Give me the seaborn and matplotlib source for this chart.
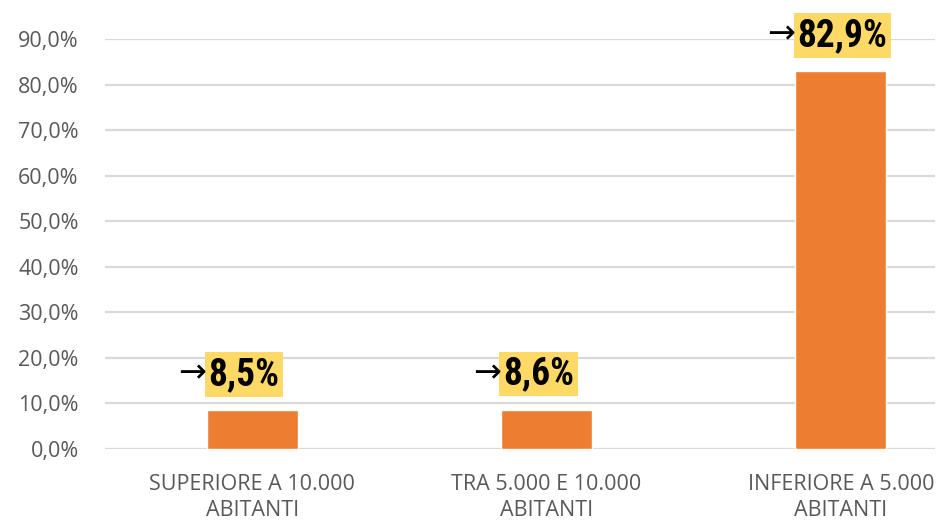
import matplotlib
matplotlib.use("Agg")
import matplotlib.pyplot as plt
import seaborn as sns
import pandas as pd

categorie = ["SUPERIORE A 10.000\nABITANTI", "TRA 5.000 E 10.000\nABITANTI", "INFERIORE A 5.000\nABITANTI"]
valori = [0.085, 0.086, 0.829]
etichette = ["8,5%", "8,6%", "82,9%"]
yticks = [0.0, 0.1, 0.2, 0.3, 0.4, 0.5, 0.6, 0.7, 0.8, 0.9]
ytick_labels = ["0,0%", "10,0%", "20,0%", "30,0%", "40,0%", "50,0%", "60,0%", "70,0%", "80,0%", "90,0%"]

df = pd.DataFrame({"cat": categorie, "val": valori})

sns.set_style("white")
plt.rcParams['font.family'] = ['Open Sans', 'DejaVu Sans']

fig = plt.figure(figsize=(9.41, 5.22), dpi=100)
ax = fig.add_axes([0.1116, 0.1398, 0.882, 0.7855])

bw = 0.31
sns.barplot(df, x="cat", y="val", color="#ED7D31", saturation=1, width=bw, ax=ax, zorder=3)

ax.set_ylim(0, 0.9)
ax.set_xlim(-0.5, 2.32)
ax.set_yticks(yticks)
ax.set_yticklabels(ytick_labels)
for y in yticks:
    ax.axhline(y, color="#d9d9d9", lw=1.6, zorder=1)
for s in ax.spines.values():
    s.set_visible(False)
ax.tick_params(axis="both", length=0, colors="#595959", labelsize=15.5)
ax.tick_params(axis="y", pad=19)
ax.tick_params(axis="x", pad=18)
for t in ax.get_xticklabels():
    t.set_linespacing(1.3)
ax.set(xlabel="", ylabel="")

lab_font = ['Roboto Condensed', 'Liberation Sans Narrow', 'Roboto', 'DejaVu Sans']
for i, (v, t) in enumerate(zip(valori, etichette)):
    ax.annotate(t, xy=(i - bw / 2, v), xytext=(1.5, 12.5), textcoords="offset points",
                ha="left", va="bottom", fontsize=27, fontweight="black", family=lab_font,
                fontstretch="condensed", color="black", zorder=5,
                bbox=dict(boxstyle="square,pad=0.1", fc="#FFD966", ec="none"))
    ax.annotate("→", xy=(i - bw / 2, v), xytext=(0, 15), textcoords="offset points",
                ha="right", va="bottom", fontsize=24, family=['DejaVu Sans'],
                color="black", zorder=5)

fig.savefig("out.png", dpi=100)
